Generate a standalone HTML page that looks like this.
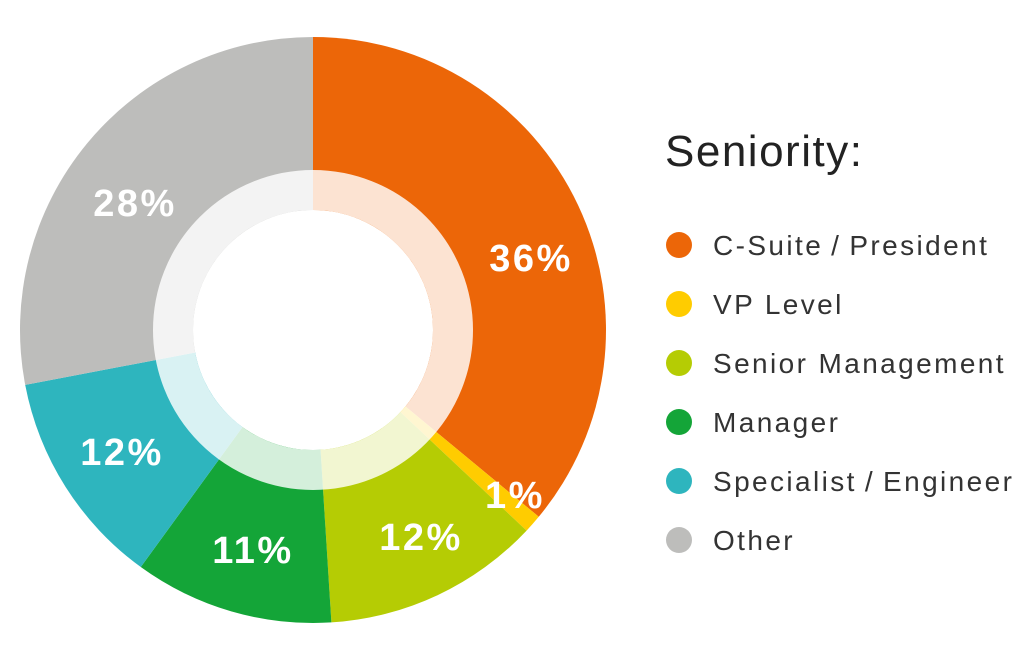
<!DOCTYPE html>
<html><head><meta charset="utf-8"><style>
body{margin:0;background:#fff;width:1024px;height:664px;overflow:hidden;font-family:"Liberation Sans",sans-serif}
</style></head><body>
<svg id="chart" width="1024" height="664" xmlns="http://www.w3.org/2000/svg">
<g id="slices"></g>
<circle cx="313" cy="330" r="140" fill="none" stroke="#fff" stroke-opacity="0.82" stroke-width="40"/>
<circle cx="313" cy="330" r="120" fill="#fff"/>
<g id="labels"></g>
<text x="665" y="166" font-size="44" fill="#222" letter-spacing="1.5">Seniority:</text>
<g id="legend"></g>
</svg>
<script>
const categories=["C-Suite\u2009/\u2009President","VP Level","Senior Management","Manager","Specialist\u2009/\u2009Engineer","Other"];
const values=[36,1,12,11,12,28];
const labels=["36%","1%","12%","11%","12%","28%"];
const colors=["#EC6608","#FFCC00","#B5CC04","#14A538","#2EB5BE","#BDBDBB"];
const labelPos=[[531,258],[515,495],[421,537],[253,550],[122,452],[135,203]];
const NS="http://www.w3.org/2000/svg",cx=313,cy=330,R=293;
const total=values.reduce((a,b)=>a+b,0);
const sl=document.getElementById('slices'),lb=document.getElementById('labels'),lg=document.getElementById('legend');
function pt(a,r){return [cx+r*Math.sin(a),cy-r*Math.cos(a)];}
let acc=0;
values.forEach((v,i)=>{
 const a0=acc/total*2*Math.PI;acc+=v;const a1=acc/total*2*Math.PI;
 const p0=pt(a0,R),p1=pt(a1,R);
 const p=document.createElementNS(NS,'path');
 p.setAttribute('d',`M${cx},${cy}L${p0[0]},${p0[1]}A${R},${R} 0 ${a1-a0>Math.PI?1:0} 1 ${p1[0]},${p1[1]}Z`);
 p.setAttribute('fill',colors[i]);
 
 
 sl.appendChild(p);
 const lp=labelPos[i];
 const t=document.createElementNS(NS,'text');
 t.setAttribute('x',lp[0]);t.setAttribute('y',lp[1]+13);
 t.setAttribute('text-anchor','middle');t.setAttribute('font-size','38');t.setAttribute('font-weight','bold');t.setAttribute('letter-spacing','2.5');t.setAttribute('fill','#fff');
 t.textContent=labels[i];
 
 
 lb.appendChild(t);
 const y=245+i*59;
 const c=document.createElementNS(NS,'circle');
 c.setAttribute('cx',679);c.setAttribute('cy',y);c.setAttribute('r',13);c.setAttribute('fill',colors[i]);
 
 
 lg.appendChild(c);
 const lt=document.createElementNS(NS,'text');
 lt.setAttribute('x',713);lt.setAttribute('y',y+10);lt.setAttribute('font-size','28');lt.setAttribute('letter-spacing','2.4');lt.setAttribute('fill','#333');
 lt.textContent=categories[i];
 
 
 lg.appendChild(lt);
});
</script>
</body></html>
